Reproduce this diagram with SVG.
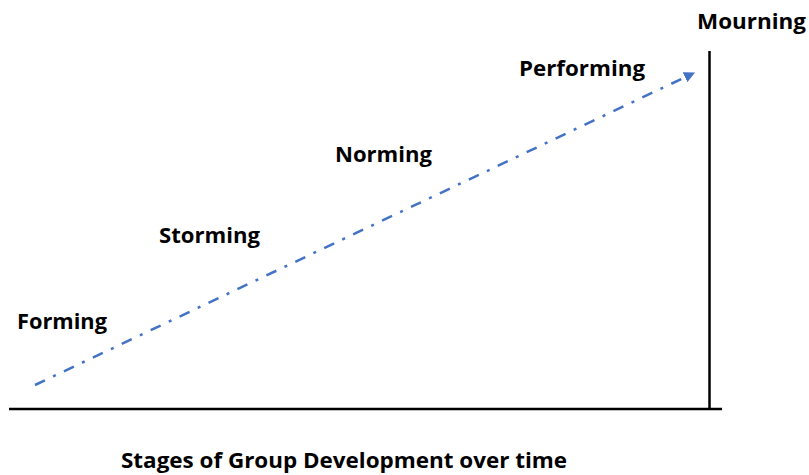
<svg xmlns="http://www.w3.org/2000/svg" width="809" height="475" viewBox="0 0 809 475">
  <style>
    .lbl { font-family: "Open Sans", "Liberation Sans", sans-serif; font-weight: bold; font-size: 22px; fill: #000; }
    .axis { stroke: #000; stroke-width: 2.5; fill: none; }
    .trend { stroke: #4472C4; stroke-width: 2.5; fill: none; stroke-dasharray: 11 9 3 9; }
  </style>
  <defs>
    <marker id="tip" viewBox="0 0 10 10" refX="9" refY="5" markerWidth="4.4" markerHeight="4.4" orient="auto" markerUnits="strokeWidth">
      <path d="M0,0 L10,5 L0,10 z" fill="#4472C4"/>
    </marker>
  </defs>
  <rect width="809" height="475" fill="#fff"/>

  <g id="connectors">
    <line class="axis" x1="9" y1="409" x2="722" y2="409"/>
    <line class="axis" x1="709.5" y1="51" x2="709.5" y2="409"/>
    <line class="trend" x1="35" y1="385" x2="694" y2="73" marker-end="url(#tip)"/>
  </g>

  <g id="forming"><text class="lbl" x="17" y="329" textLength="90" lengthAdjust="spacingAndGlyphs">Forming</text></g>
  <g id="storming"><text class="lbl" x="159" y="243" textLength="101" lengthAdjust="spacingAndGlyphs">Storming</text></g>
  <g id="norming"><text class="lbl" x="335" y="162" textLength="97" lengthAdjust="spacingAndGlyphs">Norming</text></g>
  <g id="performing"><text class="lbl" x="519" y="76" textLength="126" lengthAdjust="spacingAndGlyphs">Performing</text></g>
  <g id="mourning"><text class="lbl" x="697" y="29" textLength="109" lengthAdjust="spacingAndGlyphs">Mourning</text></g>
  <g id="title"><text class="lbl" x="121" y="468" textLength="446" lengthAdjust="spacingAndGlyphs">Stages of Group Development over time</text></g>
</svg>
